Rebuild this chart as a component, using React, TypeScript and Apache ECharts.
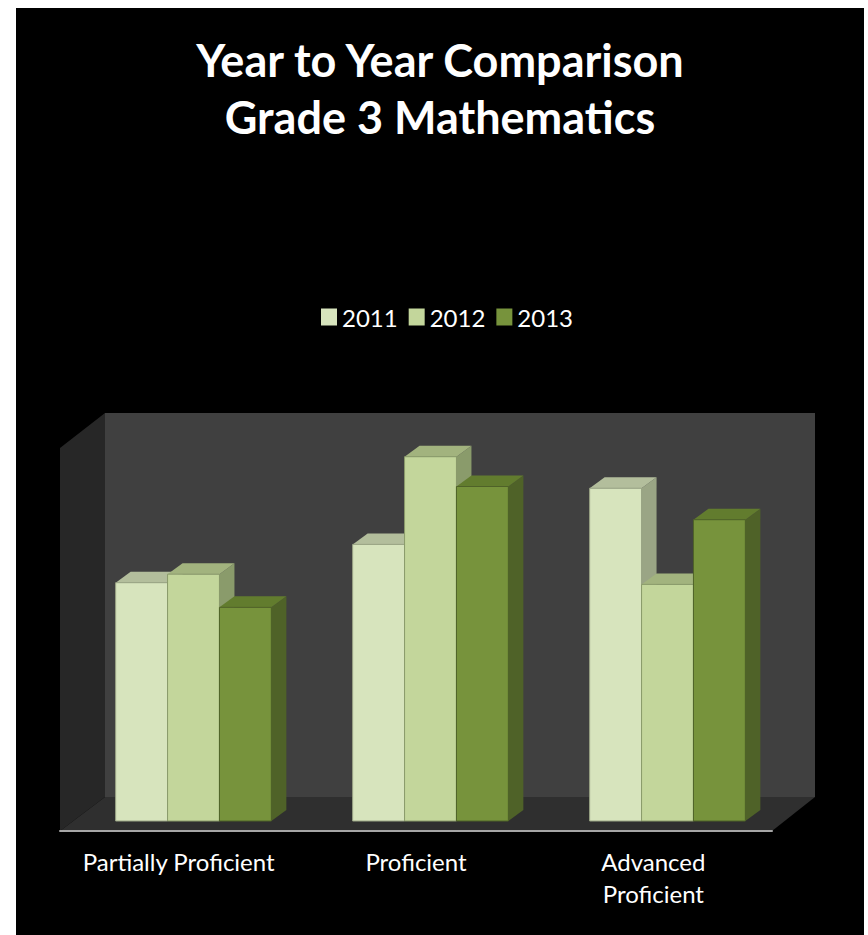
import React, { useEffect, useRef } from "react";
import * as echarts from "echarts";

const categories = ["Partially Proficient", "Proficient", "Advanced\nProficient"];
const years = ["2011", "2012", "2013"];
const values2011 = [28.0, 32.5, 39.1];
const values2012 = [29.0, 42.8, 27.8];
const values2013 = [25.1, 39.3, 35.4];
const seriesValues = [values2011, values2012, values2013];

const frontColors = ["#d7e4bd", "#c3d69b", "#77933c"];
const topColors = ["#b3be9c", "#a2b37e", "#627c2e"];
const sideColors = ["#9aa585", "#8a9b6b", "#4f6228"];

const FONT = "Lato, 'Open Sans', sans-serif";

export default function App() {
  const ref = useRef<HTMLDivElement>(null);
  useEffect(() => {
    if (!ref.current) return;
    const chart = echarts.init(ref.current, null, { renderer: "svg" });
    const DX = 15;
    const DY = -11;
    const series = years.map((year, si) => ({
      type: "custom",
      name: year,
      xAxisIndex: 0,
      yAxisIndex: 0,
      z: 3 + si,
      itemStyle: { color: frontColors[si] },
      encode: { x: 0, y: 1 },
      data: seriesValues[si].map((v, ci) => [ci, v]),
      renderItem: (params: any, api: any) => {
        const cat = api.value(0);
        const val = api.value(1);
        const base = api.coord([cat, 0]);
        const top = api.coord([cat, val]);
        const band = api.size([1, 0])[0];
        const bw = band * 0.219;
        const x0 = base[0] - (bw * 3) / 2 + si * bw;
        const ty = top[1];
        const by = base[1];
        return {
          type: "group",
          children: [
            {
              type: "polygon",
              shape: {
                points: [
                  [x0 + bw, ty],
                  [x0 + bw + DX, ty + DY],
                  [x0 + bw + DX, by + DY],
                  [x0 + bw, by],
                ],
              },
              style: { fill: sideColors[si] },
            },
            {
              type: "polygon",
              shape: {
                points: [
                  [x0, ty],
                  [x0 + DX, ty + DY],
                  [x0 + bw + DX, ty + DY],
                  [x0 + bw, ty],
                ],
              },
              style: { fill: topColors[si] },
            },
            {
              type: "rect",
              shape: { x: x0, y: ty, width: bw, height: by - ty },
              style: {
                fill: frontColors[si],
                stroke: sideColors[si],
                lineWidth: 1,
              },
            },
          ],
        };
      },
    }));

    chart.setOption({
      animation: false,
      backgroundColor: "#ffffff",
      graphic: [
        { type: "rect", z: -10, shape: { x: 16, y: 8, width: 848, height: 927 }, style: { fill: "#000000" } },
        { type: "rect", z: -9, shape: { x: 105, y: 413, width: 710, height: 384 }, style: { fill: "#404040" } },
        {
          type: "polygon", z: -9,
          shape: { points: [[60, 448], [105, 413], [105, 797], [60, 831]] },
          style: { fill: "#272727" },
        },
        {
          type: "polygon", z: -9,
          shape: { points: [[60, 831], [105, 797], [815, 797], [772, 831]] },
          style: { fill: "#2f2f2f" },
        },
        {
          type: "text", z: 10,
          x: 440, y: 60,
          style: {
            text: "Year to Year Comparison",
            fill: "#ffffff",
            font: `bold 45px ${FONT}`,
            textAlign: "center",
            textVerticalAlign: "middle",
          },
        },
        {
          type: "text", z: 10,
          x: 440, y: 117,
          style: {
            text: "Grade 3 Mathematics",
            fill: "#ffffff",
            font: `bold 45px ${FONT}`,
            textAlign: "center",
            textVerticalAlign: "middle",
          },
        },
      ],
      legend: {
        left: 316,
        top: 300,
        itemWidth: 16,
        itemHeight: 17,
        itemGap: 11,
        icon: "rect",
        textStyle: { color: "#ffffff", fontSize: 24, fontFamily: FONT },
        data: years,
      },
      grid: [
        { left: 75, top: 438, width: 711, height: 383 },
        { left: 60, top: 448, width: 712, height: 383 },
      ],
      xAxis: [
        {
          type: "category",
          gridIndex: 0,
          data: categories,
          show: false,
        },
        {
          type: "category",
          gridIndex: 1,
          data: categories,
          z: 20,
          axisLine: { lineStyle: { color: "#a6a6a6", width: 2 } },
          axisTick: { show: false },
          axisLabel: {
            color: "#ffffff",
            fontSize: 24,
            fontFamily: FONT,
            lineHeight: 32,
            margin: 14,
            interval: 0,
          },
        },
      ],
      yAxis: [
        { type: "value", gridIndex: 0, min: 0, max: 45, show: false },
        { type: "value", gridIndex: 1, min: 0, max: 45, show: false },
      ],
      series,
    });
    return () => chart.dispose();
  }, []);
  return (
    <div
      ref={ref}
      style={{ position: "absolute", left: 0, top: 0, width: 868, height: 935 }}
    />
  );
}
